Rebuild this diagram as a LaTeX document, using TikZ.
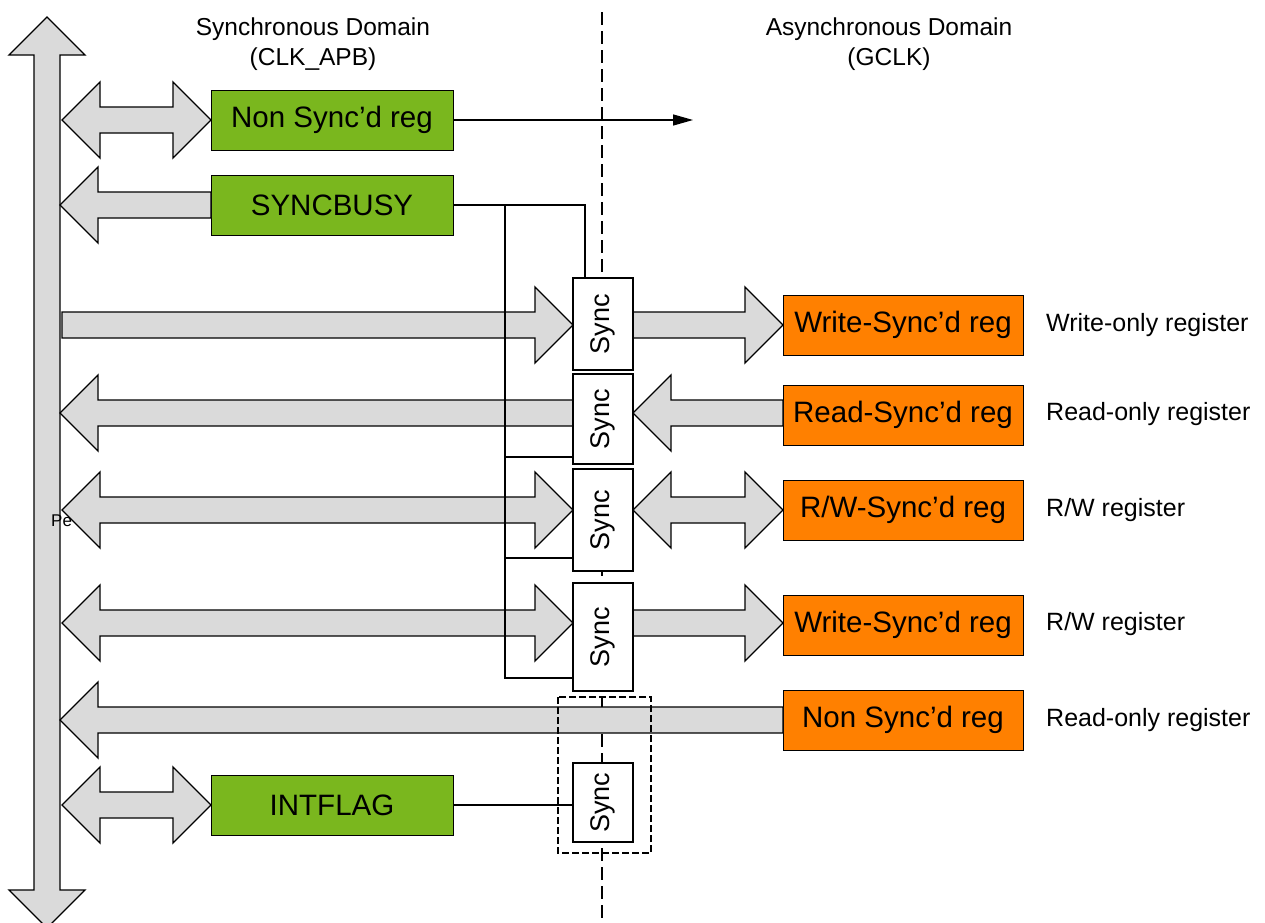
\documentclass[tikz,border=0pt]{standalone}
\usepackage{fontspec}
\setmainfont{Liberation Sans}
\usetikzlibrary{arrows.meta}
\definecolor{grn}{RGB}{122,183,30}
\definecolor{org}{RGB}{255,128,0}
\definecolor{arrgray}{RGB}{218,218,218}
\tikzset{
  blockarrow/.style={fill=arrgray, draw=black, line width=1.3pt, line join=miter},
  regbox/.style={draw=black, line width=1pt, minimum height=60pt, inner sep=0pt, font=\fontsize{29.5}{34}\selectfont},
  greenreg/.style={regbox, fill=grn, minimum width=242pt},
  orangereg/.style={regbox, fill=org, minimum width=240pt},
  syncbox/.style={draw=black, fill=white, line width=1.3pt, minimum width=60pt, inner sep=0pt},
  synctext/.style={rotate=90, font=\fontsize{27}{30}\selectfont, inner sep=0pt},
  heading/.style={align=center, font=\fontsize{24.5}{30}\selectfont, inner sep=0pt},
  sidelabel/.style={anchor=west, font=\fontsize{25}{28}\selectfont, inner sep=0pt},
  wire/.style={draw=black, line width=1.3pt},
  domainline/.style={draw=black, line width=2pt, dash pattern=on 13pt off 6pt},
  groupbox/.style={draw=black, line width=2pt, dash pattern=on 7pt off 3pt}
}
% right-pointing block arrow: flat end #1, tip #2, centre line #3
\newcommand{\barRight}[3]{\filldraw[blockarrow] (#1,#3-13) -- (#2-38,#3-13) -- (#2-38,#3-38) -- (#2,#3) -- (#2-38,#3+38) -- (#2-38,#3+13) -- (#1,#3+13) -- cycle;}
% left-pointing block arrow: tip #1, flat end #2
\newcommand{\barLeft}[3]{\filldraw[blockarrow] (#2,#3-13) -- (#1+38,#3-13) -- (#1+38,#3-38) -- (#1,#3) -- (#1+38,#3+38) -- (#1+38,#3+13) -- (#2,#3+13) -- cycle;}
% double block arrow: tips #1 and #2
\newcommand{\barBoth}[3]{\filldraw[blockarrow] (#1,#3) -- (#1+38,#3-38) -- (#1+38,#3-13) -- (#2-38,#3-13) -- (#2-38,#3-38) -- (#2,#3) -- (#2-38,#3+38) -- (#2-38,#3+13) -- (#1+38,#3+13) -- (#1+38,#3+38) -- cycle;}
\begin{document}
\begin{tikzpicture}[x=1pt,y=-1pt]
\useasboundingbox[fill=white] (0,0) rectangle (1265,922);

% domain divider
\draw[domainline] (602,12) -- (602,922);

% headings
\node[heading] (hsync) at (313,44) {Synchronous Domain\\(CLK\_APB)};
\node[heading] (hasync) at (889,44) {Asynchronous Domain\\(GCLK)};

% peripheral bus (vertical double arrow)
\filldraw[blockarrow] (47,17) -- (85,55) -- (60,55) -- (60,890) -- (85,890) -- (47,928) -- (9,890) -- (34,890) -- (34,55) -- (9,55) -- cycle;
\node[anchor=west, font=\fontsize{17}{18}\selectfont, inner sep=0pt] (pe) at (51,521) {Pe};

% registers
\node[greenreg] (nsr) at (332,120) {Non Sync'd reg};
\node[greenreg] (sb) at (332,205) {SYNCBUSY};
\node[greenreg] (intf) at (332,805) {INTFLAG};
\node[orangereg] (wsr1) at (903,325) {Write-Sync'd reg};
\node[orangereg] (rsr) at (903,415) {Read-Sync'd reg};
\node[orangereg] (rwsr) at (903,510) {R/W-Sync'd reg};
\node[orangereg] (wsr2) at (903,625) {Write-Sync'd reg};
\node[orangereg] (nsr2) at (903,720) {Non Sync'd reg};

% block arrows
\barBoth{62}{211}{120}
\barLeft{60}{211}{205}
\barRight{62}{573}{325}
\barRight{633}{783}{325}
\barLeft{60}{573}{413}
\barLeft{633}{783}{413}
\barBoth{62}{573}{510}
\barBoth{633}{783}{510}
\barBoth{62}{573}{623}
\barRight{633}{783}{623}
\barLeft{60}{783}{720}
\barBoth{62}{211}{805}

% sync cells
\node[syncbox, minimum height=92pt] (s1) at (603,324) {};
\node[syncbox, minimum height=90pt] (s2) at (603,419) {};
\node[syncbox, minimum height=102pt] (s3) at (603,520) {};
\node[syncbox, minimum height=108pt] (s4) at (603,637) {};
\node[syncbox, minimum height=79pt] (s5) at (603,802.5) {};
\foreach \s in {s1,s2,s3,s4,s5} \node[synctext] at (\s) {Sync};

% group box around INTFLAG synchroniser
\draw[groupbox] (558,697) rectangle (651,853);

% non sync'd register output
\draw[wire, -{Triangle[length=20pt,width=11pt]}] (nsr.east) -- (693,120) coordinate (nsrout);

% SYNCBUSY wiring
\coordinate (c1) at (585,205);
\coordinate (br) at (505,205);
\coordinate (j2) at (505,457);
\coordinate (j3) at (505,558);
\coordinate (j4) at (505,678);
\draw[wire] (sb.east) -- (c1) -- (c1 |- s1.north);
\draw[wire] (br) -- (j4) -- (j4 -| s4.west);
\draw[wire] (j2) -- (j2 -| s2.west);
\draw[wire] (j3) -- (j3 -| s3.west);

% INTFLAG to its synchroniser
\draw[wire] (intf.east) -- (intf.east -| s5.west);

% side labels
\node[sidelabel] (l1) at (1046,325) {Write-only register};
\node[sidelabel] (l2) at (1046,414) {Read-only register};
\node[sidelabel] (l3) at (1046,510) {R/W register};
\node[sidelabel] (l4) at (1046,624) {R/W register};
\node[sidelabel] (l5) at (1046,720) {Read-only register};
\end{tikzpicture}
\end{document}
